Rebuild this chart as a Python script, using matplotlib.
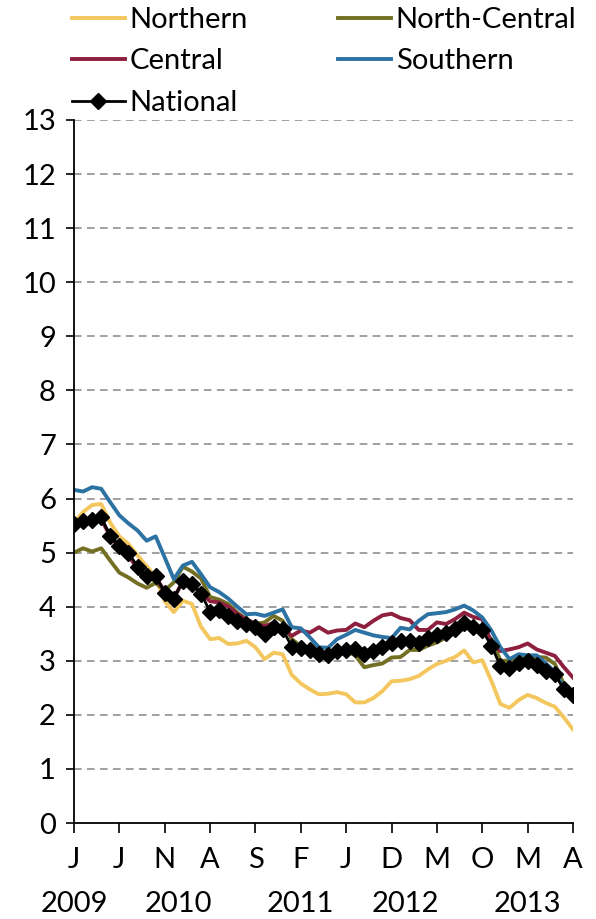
import numpy as np
import matplotlib.pyplot as plt
from matplotlib import transforms

plt.rcParams['font.family'] = ['Lato', 'DejaVu Sans']

# monthly, Jan 2009 .. Aug 2013
northern = [5.55, 5.75, 5.88, 5.90, 5.55, 5.30, 5.16, 4.95, 4.75, 4.55,
            4.10, 3.90, 4.11, 4.05, 3.63, 3.40, 3.42, 3.31, 3.32, 3.37,
            3.25, 3.03, 3.15, 3.12, 2.74, 2.58, 2.47, 2.38, 2.39, 2.42,
            2.38, 2.23, 2.23, 2.31, 2.44, 2.62, 2.63, 2.66, 2.72, 2.84,
            2.94, 3.00, 3.07, 3.19, 2.97, 3.01, 2.63, 2.20, 2.13, 2.27,
            2.37, 2.31, 2.22, 2.15, 1.95, 1.73]
north_central = [5.00, 5.08, 5.02, 5.08, 4.85, 4.63, 4.54, 4.43, 4.35, 4.44,
                 4.30, 4.45, 4.74, 4.65, 4.52, 4.18, 4.13, 4.05, 3.89, 3.77,
                 3.68, 3.71, 3.83, 3.74, 3.40, 3.27, 3.17, 3.06, 3.06, 3.15,
                 3.18, 3.10, 2.88, 2.92, 2.95, 3.06, 3.07, 3.20, 3.20, 3.28,
                 3.34, 3.43, 3.52, 3.62, 3.65, 3.56, 3.40, 3.00, 3.00, 3.06,
                 3.07, 3.07, 3.06, 2.94, 2.56, 2.41]
central = [5.55, 5.60, 5.60, 5.62, 5.30, 5.10, 4.95, 4.70, 4.48, 4.55,
           4.28, 4.16, 4.47, 4.42, 4.25, 4.10, 4.08, 4.00, 3.87, 3.75,
           3.69, 3.64, 3.70, 3.60, 3.46, 3.56, 3.52, 3.62, 3.52, 3.56,
           3.57, 3.69, 3.62, 3.74, 3.84, 3.87, 3.79, 3.75, 3.57, 3.57,
           3.71, 3.68, 3.77, 3.89, 3.81, 3.77, 3.34, 3.18, 3.21, 3.25,
           3.32, 3.21, 3.15, 3.09, 2.88, 2.69]
southern = [6.16, 6.13, 6.21, 6.18, 5.93, 5.69, 5.54, 5.41, 5.22, 5.30,
            4.91, 4.51, 4.76, 4.83, 4.60, 4.36, 4.27, 4.15, 4.00, 3.86,
            3.87, 3.83, 3.89, 3.95, 3.62, 3.60, 3.43, 3.25, 3.24, 3.40,
            3.48, 3.57, 3.52, 3.47, 3.44, 3.42, 3.61, 3.58, 3.74, 3.86,
            3.88, 3.90, 3.95, 4.02, 3.93, 3.80, 3.56, 3.25, 3.03, 3.12,
            3.10, 3.10, 2.95, 2.80, 2.50, 2.38]
national = [5.53, 5.59, 5.61, 5.65, 5.31, 5.13, 5.00, 4.74, 4.56, 4.57,
            4.26, 4.14, 4.48, 4.42, 4.24, 3.91, 3.94, 3.83, 3.74, 3.68,
            3.62, 3.50, 3.63, 3.58, 3.26, 3.23, 3.19, 3.13, 3.10, 3.18,
            3.20, 3.22, 3.12, 3.18, 3.25, 3.33, 3.36, 3.36, 3.32, 3.42,
            3.47, 3.52, 3.58, 3.70, 3.62, 3.56, 3.28, 2.90, 2.86, 2.95,
            3.00, 2.92, 2.82, 2.75, 2.47, 2.36]

month_labels = ["J", "J", "N", "A", "S", "F", "J", "D", "M", "O", "M", "A"]
years = ["2009", "2010", "2011", "2012", "2013"]
year_pos = [0, 11.5, 25, 36.5, 50]

x = np.arange(len(national))
fs = 21

fig = plt.figure(figsize=(5.96, 9.19), dpi=100)
ax = fig.add_axes([74 / 596, 1 - 823 / 919, 499 / 596, 703 / 919])

for v in range(1, 14):
    ax.axhline(v, color="#868686", lw=1.1, ls=(0, (5, 3.5)), zorder=1)

lw = 2.8
l1, = ax.plot(x, northern, color="#F4C75E", lw=lw, label="Northern", zorder=2)
l2, = ax.plot(x, north_central, color="#747023", lw=lw, label="North-Central", zorder=2)
l3, = ax.plot(x, central, color="#8E1F3E", lw=lw, label="Central", zorder=2)
l4, = ax.plot(x, southern, color="#2C72A3", lw=lw, label="Southern", zorder=2)
l5, = ax.plot(x, national, color="black", lw=2, marker="D", ms=8, label="National", zorder=3)

ax.set_xlim(0, len(national) - 1)
ax.set_ylim(0, 13)
ax.set_yticks(range(0, 14))
ax.set_xticks(np.arange(0, len(national), 5))
ax.set_xticklabels(month_labels)
ax.tick_params(axis="y", direction="out", length=6, width=1.2, labelsize=fs, pad=7)
ax.tick_params(axis="x", direction="out", length=7, width=1.2, labelsize=fs, pad=10)
for s in ["top", "right"]:
    ax.spines[s].set_visible(False)
for s in ["left", "bottom"]:
    ax.spines[s].set_linewidth(1.3)

trans = transforms.blended_transform_factory(ax.transData, ax.transAxes)
for yr, p in zip(years, year_pos):
    ax.text(p, -0.115, yr, transform=trans, ha="center", va="center", fontsize=fs)

fig.legend([l1, l3, l5, l2, l4],
           ["Northern", "Central", "National", "North-Central", "Southern"],
           ncol=2, loc="upper left", bbox_to_anchor=(72 / 596, 1 - 7 / 919),
           frameon=False, fontsize=fs, handlelength=1.8, handletextpad=0.17,
           columnspacing=3.1, labelspacing=0.53, borderpad=0, borderaxespad=0)

fig.savefig("out.png", dpi=100)
